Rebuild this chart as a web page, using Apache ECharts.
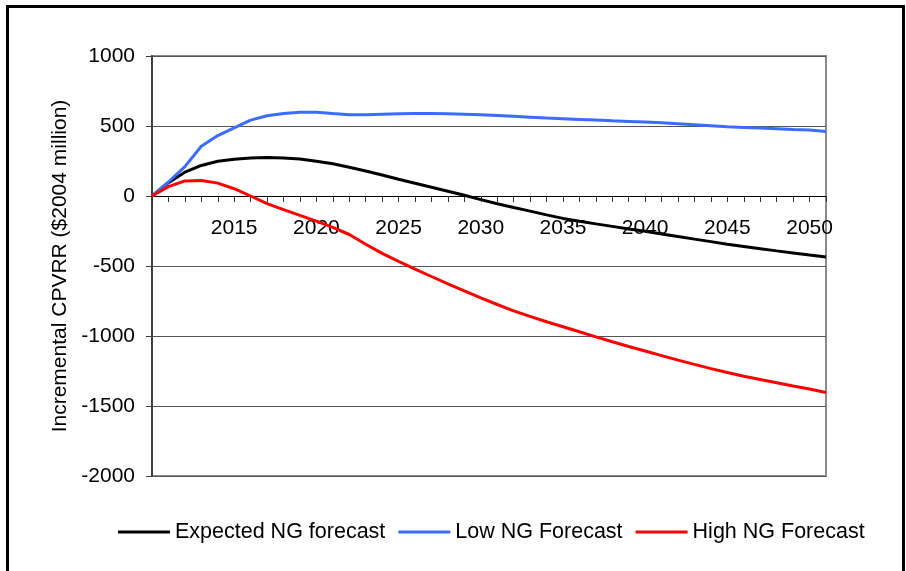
<!DOCTYPE html>
<html>
<head>
<meta charset="utf-8">
<script src="https://cdn.jsdelivr.net/npm/echarts@6/dist/echarts.min.js"></script>
<style>
html,body{margin:0;padding:0;background:#fff;}
#chart{width:906px;height:571px;}
</style>
</head>
<body>
<div id="chart"></div>
<script>
var years = [];
for (var y = 2010; y <= 2051; y++) years.push(String(y));

var seriesNames = ['Expected NG forecast', 'Low NG Forecast', 'High NG Forecast'];

var expectedNG = [0, 95, 170, 218, 248, 263, 271, 275, 272, 264,
  248, 230, 205, 178, 150, 120, 91, 63, 34, 5,
  -26, -55, -82, -108, -135, -160, -180, -199, -217, -235,
  -252, -271, -290, -308, -326, -344, -360, -376, -392, -407,
  -422, -436];

var lowNG = [0, 100, 210, 355, 432, 487, 542, 573, 590, 599,
  599, 589, 581, 580, 584, 587, 589, 589, 587, 584,
  580, 575, 569, 563, 557, 552, 547, 542, 537, 533,
  529, 523, 516, 509, 502, 495, 490, 485, 480, 475,
  471, 460];

var highNG = [0, 67, 108, 110, 92, 52, 0, -55, -97, -138,
  -180, -224, -275, -345, -410, -467, -522, -575, -627, -678,
  -727, -775, -820, -860, -898, -934, -970, -1006, -1041, -1075,
  -1107, -1140, -1172, -1203, -1233, -1261, -1287, -1311, -1334, -1357,
  -1379, -1403];

var yTicks = { min: -2000, max: 1000, interval: 500 };
var colors = ['#000000', '#3b6cff', '#ff0000'];
var FONT = 'Liberation Sans, Arial, sans-serif';

var GRID = { left: 152, right: 80, top: 56, bottom: 95 };
var plotH = 571 - GRID.top - GRID.bottom;
// distance from bottom of plot to the zero line, derived from the y scale
var zeroOffset = -plotH * (0 - yTicks.min) / (yTicks.max - yTicks.min);

var chart = echarts.init(document.getElementById('chart'), null, { renderer: 'canvas' });

function lineSeries(name, data, color) {
  return {
    name: name,
    type: 'line',
    data: data,
    symbol: 'none',
    smooth: false,
    lineStyle: { color: color, width: 3 },
    itemStyle: { color: color }
  };
}

chart.setOption({
  animation: false,
  backgroundColor: '#ffffff',
  graphic: [{
    type: 'rect',
    shape: { x: 7.5, y: 6.5, width: 896, height: 620 },
    style: { fill: 'none', stroke: '#000', lineWidth: 3 },
    silent: true
  }],
  grid: {
    left: GRID.left, right: GRID.right, top: GRID.top, bottom: GRID.bottom,
    show: true, borderColor: '#8c8c8c', borderWidth: 2
  },
  legend: {
    left: 118, top: 521, padding: 0,
    itemWidth: 52, itemHeight: 3, itemGap: 13,
    icon: 'rect',
    textStyle: { fontFamily: FONT, fontSize: 21.5, color: '#000' },
    data: seriesNames
  },
  xAxis: {
    type: 'category',
    data: years,
    boundaryGap: false,
    position: 'bottom',
    offset: zeroOffset,
    axisLine: { onZero: false, lineStyle: { color: '#000', width: 1 } },
    axisTick: { show: true, interval: 0, length: 6, lineStyle: { color: '#333' } },
    axisLabel: {
      interval: function (idx) { return idx > 0 && idx % 5 === 0; },
      fontFamily: FONT, fontSize: 21, color: '#000', margin: 22
    },
    splitLine: { show: false }
  },
  yAxis: {
    type: 'value',
    min: yTicks.min, max: yTicks.max, interval: yTicks.interval,
    name: 'Incremental CPVRR ($2004 million)',
    nameLocation: 'middle',
    nameGap: 76,
    nameTextStyle: { fontFamily: FONT, fontSize: 21, color: '#000' },
    axisLine: { show: true, lineStyle: { color: '#404040', width: 2 } },
    axisTick: { show: true, length: 6, lineStyle: { color: '#404040' } },
    axisLabel: {
      fontFamily: FONT, fontSize: 21, color: '#000', margin: 17,
      formatter: function (v) { return String(v); }
    },
    splitLine: { show: true, lineStyle: { color: '#555', width: 1 } }
  },
  series: [
    lineSeries(seriesNames[0], expectedNG, colors[0]),
    lineSeries(seriesNames[1], lowNG, colors[1]),
    lineSeries(seriesNames[2], highNG, colors[2])
  ]
});
</script>
</body>
</html>
